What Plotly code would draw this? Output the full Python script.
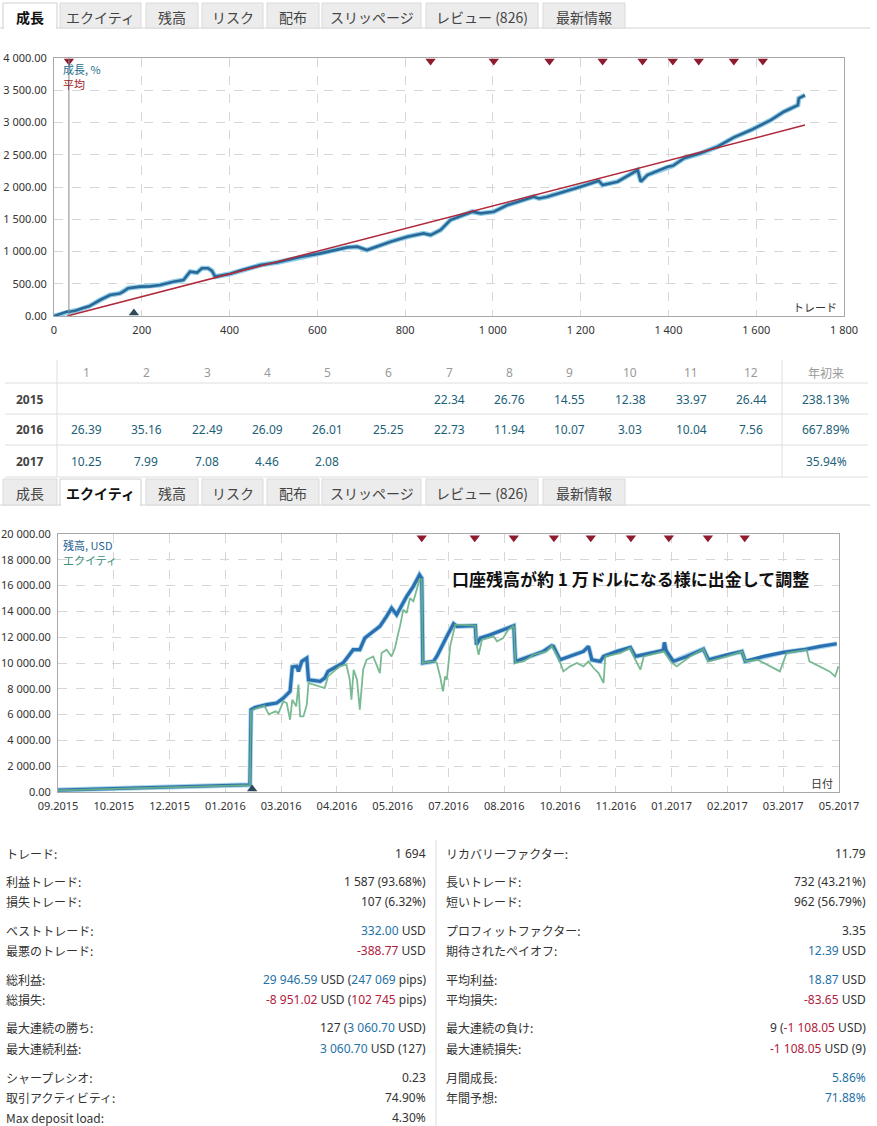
import plotly.graph_objects as go

W, H = 877, 1126
def fx(x): return x / W
def fy(y): return 1 - y / H

FONT = "Noto Sans, Noto Sans CJK JP, sans-serif"
JP = "Noto Sans CJK JP, Noto Sans, sans-serif"

# ------------------------------------------------------------------ data
tab_labels = ["成長", "エクイティ", "残高", "リスク", "配布", "スリッページ", "レビュー (826)", "最新情報"]

# growth chart (trade number vs growth %)
growth_trade = [0, 10, 20, 30, 36, 50, 66, 80, 105, 128, 150, 158, 169, 185, 196, 220, 242, 272, 295,
                310, 326, 337, 351, 360, 367, 402, 424, 470, 508, 561, 607, 668, 691, 713, 744, 767,
                805, 842, 858, 881, 903, 926, 953, 972, 1002, 1033, 1093, 1105, 1124, 1200, 1241,
                1250, 1284, 1330, 1337, 1352, 1398, 1410, 1435, 1473, 1512, 1549, 1588, 1633, 1663,
                1695, 1697, 1711]
growth_pct = [0, 20, 50, 70, 67, 85, 124, 150, 248, 326, 350, 377, 430, 445, 455, 460, 480, 532, 558,
              687, 672, 740, 740, 700, 610, 655, 705, 790, 830, 915, 971, 1064, 1075, 1023, 1100, 1152,
              1229, 1281, 1255, 1333, 1488, 1550, 1617, 1591, 1617, 1720, 1849, 1823, 1849, 2004, 2097,
              2030, 2082, 2263, 2082, 2186, 2315, 2330, 2444, 2522, 2625, 2769, 2883, 3038, 3167,
              3270, 3374, 3425]
avg_trade = [30, 1711]
avg_pct = [0, 2960]
growth_events = [34, 858, 1002, 1129, 1250, 1341, 1410, 1469, 1549, 1615]
growth_deposits = [182]
g_xtick_vals = [0, 200, 400, 600, 800, 1000, 1200, 1400, 1600, 1800]
g_xtick_text = ["0", "200", "400", "600", "800", "1 000", "1 200", "1 400", "1 600", "1 800"]
g_ytick_vals = [0, 500, 1000, 1500, 2000, 2500, 3000, 3500, 4000]
g_ytick_text = ["0.00", "500.00", "1 000.00", "1 500.00", "2 000.00", "2 500.00", "3 000.00",
                "3 500.00", "4 000.00"]

# monthly table
month_labels = ["1", "2", "3", "4", "5", "6", "7", "8", "9", "10", "11", "12"]
years = ["2015", "2016", "2017"]
m2015 = [None, None, None, None, None, None, "22.34", "26.76", "14.55", "12.38", "33.97", "26.44"]
m2016 = ["26.39", "35.16", "22.49", "26.09", "26.01", "25.25", "22.73", "11.94", "10.07", "3.03",
         "10.04", "7.56"]
m2017 = ["10.25", "7.99", "7.08", "4.46", "2.08", None, None, None, None, None, None, None]
ytd = ["238.13%", "667.89%", "35.94%"]

# equity chart (position along the date axis, tick index units)
e_tick_vals = list(range(15))
e_tick_text = ["09.2015", "10.2015", "12.2015", "01.2016", "03.2016", "04.2016", "05.2016",
               "07.2016", "08.2016", "10.2016", "11.2016", "01.2017", "02.2017", "03.2017", "05.2017"]
e_ytick_vals = [0, 2000, 4000, 6000, 8000, 10000, 12000, 14000, 16000, 18000, 20000]
e_ytick_text = ["0.00", "2 000.00", "4 000.00", "6 000.00", "8 000.00", "10 000.00", "12 000.00",
                "14 000.00", "16 000.00", "18 000.00", "20 000.00"]
bal_t = [0.00, 0.75, 1.95, 3.14, 3.44, 3.46, 3.53, 3.74, 3.92, 4.04, 4.16, 4.20, 4.28, 4.31, 4.37,
         4.46, 4.49, 4.70, 4.78, 4.84, 4.99, 5.11, 5.20, 5.29, 5.41, 5.50, 5.65, 5.77, 5.89, 5.98,
         6.07, 6.13, 6.25, 6.37, 6.48, 6.52, 6.54, 6.73, 6.79, 6.97, 7.09, 7.15, 7.48, 7.50, 7.57,
         7.75, 7.98, 8.17, 8.20, 8.46, 8.70, 8.85, 8.88, 9.00, 9.18, 9.42, 9.51, 9.57, 9.72, 9.78,
         10.02, 10.26, 10.35, 10.62, 10.85, 10.87, 10.90, 11.03, 11.27, 11.57, 11.66, 11.99, 12.26,
         12.32, 12.65, 13.00, 13.36, 13.66, 13.96]
bal_v = [150, 230, 360, 490, 560, 6380, 6550, 6770, 6900, 7280, 7800, 9700, 9740, 9350, 10125,
         10380, 8700, 8580, 8830, 9350, 9740, 10000, 10510, 11030, 11030, 11930, 12450, 12840, 13610,
         14260, 13740, 14260, 15160, 15940, 16840, 16580, 10000, 10125, 10510, 12060, 13040, 12840,
         12890, 11420, 11930, 12190, 12580, 12890, 10125, 10510, 10900, 11340, 11300, 10250, 10510,
         10900, 11290, 10250, 10125, 10510, 10900, 11210, 10510, 10770, 10980, 11600, 10980, 10125,
         10510, 11080, 10250, 10640, 10900, 10125, 10510, 10820, 11030, 11290, 11490]
eq_t = [0.00, 0.75, 1.95, 3.14, 3.44, 3.46, 3.53, 3.70, 3.78, 3.83, 3.90, 3.95, 4.04, 4.10, 4.16,
        4.20, 4.27, 4.31, 4.34, 4.40, 4.46, 4.49, 4.70, 4.78, 4.84, 5.05, 5.17, 5.23, 5.26, 5.30,
        5.36, 5.41, 5.47, 5.53, 5.65, 5.77, 5.80, 5.89, 5.98, 6.04, 6.10, 6.13, 6.19, 6.25, 6.31,
        6.37, 6.43, 6.48, 6.52, 6.54, 6.73, 6.79, 6.85, 6.90, 6.94, 6.97, 7.03, 7.12, 7.48, 7.51,
        7.54, 7.60, 7.81, 7.87, 7.98, 8.07, 8.17, 8.20, 8.35, 8.52, 8.76, 8.85, 8.97, 9.06, 9.18,
        9.30, 9.42, 9.51, 9.60, 9.69, 9.78, 9.81, 10.08, 10.26, 10.35, 10.44, 10.50, 10.86, 10.98,
        11.09, 11.33, 11.57, 11.66, 11.99, 12.26, 12.32, 12.54, 12.76, 12.94, 13.06, 13.24, 13.42,
        13.47, 13.66, 13.83, 13.93, 13.99]
eq_v = [130, 210, 340, 470, 540, 6300, 6450, 6700, 6000, 6120, 6250, 6100, 7030, 6900, 5600,
        7150, 6640, 8320, 5860, 5860, 6770, 8450, 8190, 8060, 8960, 9740, 9870, 8700, 7150, 9480,
        8700, 6380, 9480, 10250, 10510, 9220, 10770, 11030, 10510, 11160, 12320, 12840, 14130, 13870,
        15030, 14780, 15680, 16450, 16500, 10000, 10125, 10000, 8960, 7800, 8960, 8700, 11290, 12970,
        12890, 11290, 10640, 11800, 12060, 11680, 11930, 12580, 12890, 10000, 10125, 10640, 10900,
        11340, 10400, 9350, 9740, 10000, 9740, 10125, 9610, 9220, 8450, 10510, 10770, 11160, 10250,
        9480, 10510, 10900, 10125, 9740, 10510, 11080, 10125, 10510, 10900, 10125, 10250, 9740, 9350,
        10770, 10900, 11030, 10125, 9740, 9350, 8960, 9740]
eq_events = [6.52, 7.47, 8.17, 8.89, 9.55, 10.27, 10.95, 11.65, 12.31]
eq_deposits = [3.48]

# statistics
BLUE, RED = "#1f72a6", "#b0203c"
def c(t, col): return f'<span style="color:{col}">{t}</span>'
stats_left_labels = ["トレード:", "利益トレード:", "損失トレード:", "ベストトレード:", "最悪のトレード:",
                     "総利益:", "総損失:", "最大連続の勝ち:", "最大連続利益:", "シャープレシオ:",
                     "取引アクティビティ:", "Max deposit load:"]
stats_left_values = ["1 694", "1 587 (93.68%)", "107 (6.32%)", c("332.00", BLUE) + " USD",
                     c("-388.77", RED) + " USD",
                     c("29 946.59", BLUE) + " USD (" + c("247 069", BLUE) + " pips)",
                     c("-8 951.02", RED) + " USD (" + c("102 745", RED) + " pips)",
                     "127 (" + c("3 060.70", BLUE) + " USD)", c("3 060.70", BLUE) + " USD (127)",
                     "0.23", "74.90%", "4.30%"]
stats_right_labels = ["リカバリーファクター:", "長いトレード:", "短いトレード:", "プロフィットファクター:",
                      "期待されたペイオフ:", "平均利益:", "平均損失:", "最大連続の負け:", "最大連続損失:",
                      "月間成長:", "年間予想:"]
stats_right_values = ["11.79", "732 (43.21%)", "962 (56.79%)", "3.35", c("12.39", BLUE) + " USD",
                      c("18.87", BLUE) + " USD", c("-83.65", RED) + " USD",
                      "9 (" + c("-1 108.05", RED) + " USD)", c("-1 108.05", RED) + " USD (9)",
                      c("5.86%", BLUE), c("71.88%", BLUE)]

# ------------------------------------------------------------------ layout helpers
shapes, annots = [], []

def ann(x, y, text, size=12, color="#333", xanchor="center", family=FONT, **kw):
    annots.append(dict(x=fx(x), y=fy(y), xref="paper", yref="paper", text=text, showarrow=False,
                       xanchor=xanchor, yanchor="middle", font=dict(size=size, color=color, family=family), **kw))

def hline(x0, x1, y, color="#dddddd", width=1):
    shapes.append(dict(type="line", xref="paper", yref="paper", x0=fx(x0), x1=fx(x1), y0=fy(y), y1=fy(y),
                       line=dict(color=color, width=width)))

def vline(x, y0, y1, color="#dddddd", width=1):
    shapes.append(dict(type="line", xref="paper", yref="paper", x0=fx(x), x1=fx(x), y0=fy(y0), y1=fy(y1),
                       line=dict(color=color, width=width)))

tab_x0 = [3, 60, 146, 202, 267, 322, 426, 543]
tab_x1 = [57, 141, 198, 263, 319, 421, 538, 625]

def tab_bar(top, bottom, active):
    hline(0, 870, bottom, "#d4d4d4")
    for i, lab in enumerate(tab_labels):
        x0, x1 = tab_x0[i], tab_x1[i]
        if i == active:
            shapes.append(dict(type="rect", xref="paper", yref="paper", x0=fx(x0), x1=fx(x1), y0=fy(bottom),
                               y1=fy(top), fillcolor="white", line=dict(color="#cfcfcf", width=1)))
            hline(x0 + 1, x1 - 1, bottom, "white", 2)
            ann((x0 + x1) / 2, (top + bottom) / 2 + 1, "<b>" + lab + "</b>", 14, "#111", family=JP)
        else:
            shapes.append(dict(type="rect", xref="paper", yref="paper", x0=fx(x0), x1=fx(x1), y0=fy(bottom),
                               y1=fy(top), fillcolor="#ececec", line=dict(color="#dadada", width=1)))
            ann((x0 + x1) / 2, (top + bottom) / 2 + 1, lab, 14, "#444", family=JP)

tab_bar(3, 28, 0)
tab_bar(479, 505, 1)

# ------------------------------------------------------------------ traces
fig = go.Figure()
# growth
fig.add_trace(go.Scatter(x=growth_trade, y=growth_pct, mode="lines", xaxis="x", yaxis="y",
                         line=dict(color="#8fcde6", width=5), hoverinfo="skip"))
fig.add_trace(go.Scatter(x=growth_trade, y=growth_pct, mode="lines", xaxis="x", yaxis="y",
                         line=dict(color="#2a6898", width=2.6), name="成長, %"))
fig.add_trace(go.Scatter(x=avg_trade, y=avg_pct, mode="lines", xaxis="x", yaxis="y",
                         line=dict(color="#b0283a", width=1.5), name="平均"))
fig.add_trace(go.Scatter(x=growth_events, y=[3955] * len(growth_events), mode="markers", xaxis="x", yaxis="y",
                         marker=dict(symbol="triangle-down", size=9, color="#8e1b2e"), cliponaxis=False))
fig.add_trace(go.Scatter(x=growth_deposits, y=[45] * len(growth_deposits), mode="markers", xaxis="x", yaxis="y",
                         marker=dict(symbol="triangle-up", size=9, color="#2d4a5a"), cliponaxis=False))
# equity
fig.add_trace(go.Scatter(x=bal_t, y=bal_v, mode="lines", xaxis="x2", yaxis="y2",
                         line=dict(color="#a9d3ea", width=5), hoverinfo="skip"))
fig.add_trace(go.Scatter(x=bal_t, y=bal_v, mode="lines", xaxis="x2", yaxis="y2",
                         line=dict(color="#2a6fb0", width=3.2), name="残高, USD"))
fig.add_trace(go.Scatter(x=eq_t, y=eq_v, mode="lines", xaxis="x2", yaxis="y2",
                         line=dict(color="#6cb388", width=1.8), opacity=0.9, name="エクイティ"))
fig.add_trace(go.Scatter(x=eq_events, y=[19700] * len(eq_events), mode="markers", xaxis="x2", yaxis="y2",
                         marker=dict(symbol="triangle-down", size=9, color="#8e1b2e"), cliponaxis=False))
fig.add_trace(go.Scatter(x=eq_deposits, y=[230] * len(eq_deposits), mode="markers", xaxis="x2", yaxis="y2",
                         marker=dict(symbol="triangle-up", size=9, color="#2d4a5a"), cliponaxis=False))

# cursor line in growth chart
shapes.append(dict(type="line", xref="x", yref="y domain", x0=growth_events[0], x1=growth_events[0],
                   y0=0, y1=1, line=dict(color="#8a8a8a", width=1)))

# chart texts
ann(61, 69, "成長, %", 11, "#1e6e8e", "left", JP)
ann(61, 84, "平均", 11, "#a0202a", "left", JP)
ann(839, 307, "トレード", 11, "#333", "right", JP)
ann(61, 545, "残高, USD", 11, "#1f5f95", "left", JP)
ann(61, 560, "エクイティ", 11, "#3a8f7a", "left", JP)
ann(835, 783, "日付", 11, "#333", "right", JP)
ann(630, 578, "<b>口座残高が約 1 万ドルになる様に出金して調整</b>", 17, "#111", "center", JP)

# ------------------------------------------------------------------ monthly table
col_x = [86, 146, 207, 267, 327, 388, 449, 509, 569, 630, 691, 751]
row_y = [399, 430, 461]
hline(5, 868, 383, "#dedede")
hline(5, 868, 414, "#dedede")
hline(5, 868, 445, "#dedede")
hline(5, 868, 477, "#dedede")
vline(57, 360, 477, "#dedede")
vline(782, 360, 477, "#dedede")
for i, m in enumerate(month_labels):
    ann(col_x[i], 372, m, 12, "#9a9a9a")
ann(826, 372, "年初来", 12, "#9a9a9a", family=JP)
for r, (yr, vals) in enumerate(zip(years, [m2015, m2016, m2017])):
    ann(30, row_y[r], "<b>" + yr + "</b>", 12, "#444")
    for i, v in enumerate(vals):
        if v is not None:
            ann(col_x[i], row_y[r], v, 12, "#1d5f78")
    ann(826, row_y[r], ytd[r], 12, "#1d5f78")

# ------------------------------------------------------------------ statistics
left_y = [853, 881, 901, 930, 950, 979, 999, 1027, 1048, 1077, 1097, 1117]
right_y = [853, 881, 901, 930, 950, 979, 999, 1027, 1048, 1077, 1097]
vline(436, 840, 1126, "#dddddd")
for lab, val, y in zip(stats_left_labels, stats_left_values, left_y):
    ann(4, y, lab, 12, "#333", "left", JP)
    ann(428, y, val, 12, "#333", "right")
for lab, val, y in zip(stats_right_labels, stats_right_values, right_y):
    ann(444, y, lab, 12, "#333", "left", JP)
    ann(868, y, val, 12, "#333", "right")

# ------------------------------------------------------------------ axes
axis_common = dict(showgrid=True, gridcolor="#d6d6d6", griddash="dash", gridwidth=1, showline=True,
                   mirror=True, linecolor="#a8a8a8", linewidth=1, zeroline=False, fixedrange=True,
                   automargin=False, tickmode="array",
                   tickfont=dict(size=11, color="#333", family=FONT), ticks="")

fig.update_layout(
    width=W, height=H, autosize=False, margin=dict(l=0, r=0, t=0, b=0, pad=0),
    paper_bgcolor="white", plot_bgcolor="white", showlegend=False,
    font=dict(family=FONT),
    xaxis=dict(domain=[fx(54), fx(844)], range=[0, 1800], tickvals=g_xtick_vals, ticktext=g_xtick_text,
               anchor="y", ticklabelstandoff=4, **axis_common),
    yaxis=dict(domain=[fy(316), fy(58)], range=[0, 4000], tickvals=g_ytick_vals, ticktext=g_ytick_text,
               anchor="x", ticklabelstandoff=4, **axis_common),
    xaxis2=dict(domain=[fx(58), fx(839)], range=[0, 14], tickvals=e_tick_vals, ticktext=e_tick_text,
                anchor="y2", ticklabelstandoff=4, **axis_common),
    yaxis2=dict(domain=[fy(792), fy(534)], range=[0, 20000], tickvals=e_ytick_vals, ticktext=e_ytick_text,
                anchor="x2", ticklabelstandoff=4, **axis_common),
    shapes=shapes, annotations=annots,
)

fig.write_html("out.html")
